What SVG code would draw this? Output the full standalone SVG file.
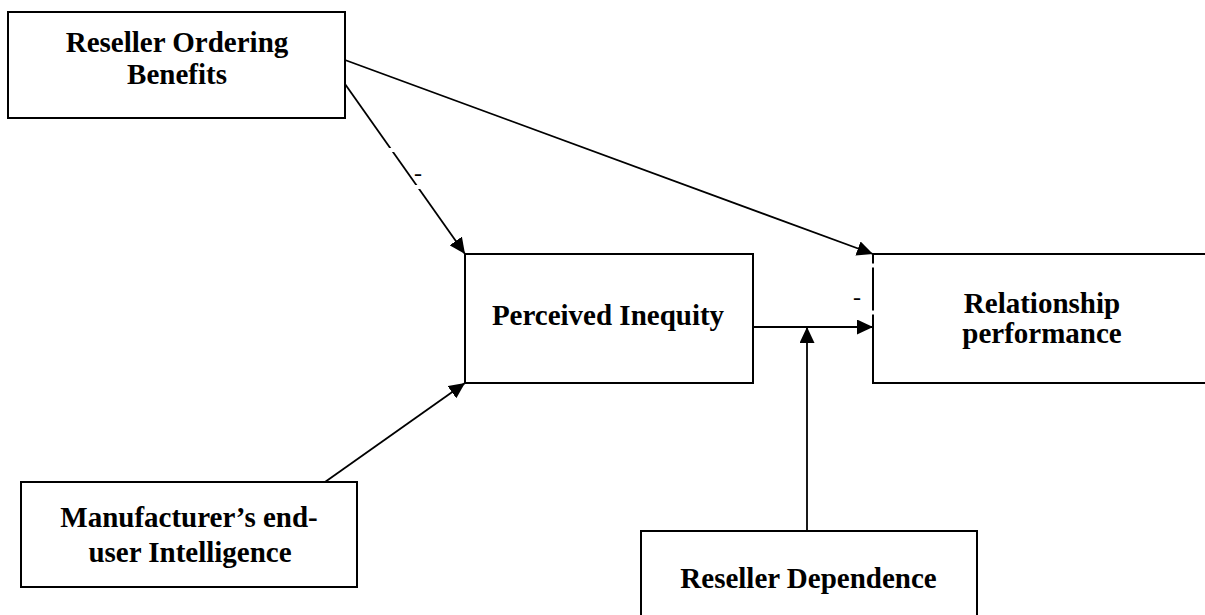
<svg xmlns="http://www.w3.org/2000/svg" width="1205" height="615" viewBox="0 0 1205 615">
  <style>
    .box { fill: #ffffff; stroke: #000000; stroke-width: 2; }
    .lbl { font-family: "Liberation Serif", "Times New Roman", serif; font-weight: bold; font-size: 29px; fill: #000000; text-anchor: middle; }
    .sign { font-family: "Liberation Serif", "Times New Roman", serif; font-size: 24px; fill: #000000; text-anchor: middle; }
    .conn { fill: none; stroke: #000000; stroke-width: 1.8; }
    .cut { stroke: #ffffff; stroke-width: 4; }
  </style>
  <defs>
    <marker id="arrow" viewBox="0 0 16 15" refX="16" refY="7.5" markerWidth="16" markerHeight="15" markerUnits="userSpaceOnUse" orient="auto">
      <path d="M0,0 L16,7.5 L0,15 Z" fill="#000000"/>
    </marker>
  </defs>
  <rect width="1205" height="615" fill="#ffffff"/>

  <g id="node-reseller-ordering-benefits">
    <rect class="box" x="8" y="12" width="337" height="106"/>
    <text class="lbl" x="177" y="51.5">Reseller Ordering</text>
    <text class="lbl" x="177" y="83.5">Benefits</text>
  </g>

  <g id="node-perceived-inequity">
    <rect class="box" x="465" y="254" width="288" height="129"/>
    <text class="lbl" x="608" y="325">Perceived Inequity</text>
  </g>

  <g id="node-relationship-performance">
    <rect class="box" x="873" y="254" width="345" height="129"/>
    <text class="lbl" x="1042" y="313">Relationship</text>
    <text class="lbl" x="1042" y="343">performance</text>
  </g>

  <g id="node-manufacturer-intelligence">
    <rect class="box" x="21" y="482" width="336" height="105"/>
    <text class="lbl" x="189" y="527">Manufacturer’s end-</text>
    <text class="lbl" x="190" y="562">user Intelligence</text>
  </g>

  <g id="node-reseller-dependence">
    <rect class="box" x="641" y="531" width="336" height="100"/>
    <text class="lbl" x="808.5" y="588">Reseller Dependence</text>
  </g>

  <g id="connectors">
    <line class="conn" x1="345" y1="60" x2="873" y2="254" marker-end="url(#arrow)"/>
    <line class="conn" x1="345" y1="84" x2="465" y2="254" marker-end="url(#arrow)"/>
    <line class="conn" x1="325" y1="482" x2="465" y2="383" marker-end="url(#arrow)"/>
    <line class="conn" x1="753" y1="327" x2="873" y2="327" marker-end="url(#arrow)"/>
    <line class="conn" x1="807" y1="531" x2="807" y2="327" marker-end="url(#arrow)"/>
    <line class="cut" x1="380" y1="150" x2="402" y2="150"/>
    <line class="cut" x1="406" y1="187" x2="428" y2="187"/>
    <line class="cut" x1="866" y1="265.5" x2="880" y2="265.5"/>
    <line class="cut" x1="866" y1="312.5" x2="880" y2="312.5"/>
    <text class="sign" x="418" y="181">-</text>
    <text class="sign" x="857" y="305">-</text>
  </g>
</svg>
